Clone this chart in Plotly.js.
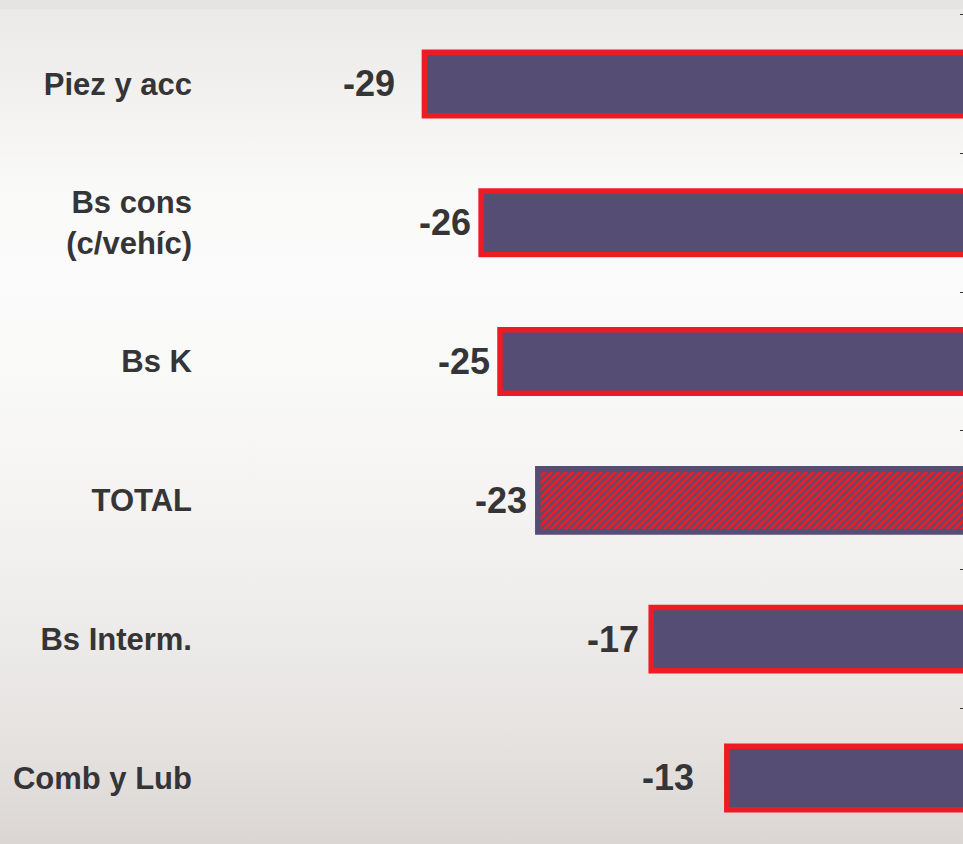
<!DOCTYPE html>
<html>
<head>
<meta charset="utf-8">
<script src="https://cdn.plot.ly/plotly-3.0.1.min.js"></script>
<style>
  html, body { margin: 0; padding: 0; overflow: hidden; }
  body {
    width: 963px; height: 844px;
    background: linear-gradient(to bottom,
      #e6e4e2 0%, #e6e4e2 1%, #eceae8 1.2%, #eeedeb 6%, #f4f3f2 14%,
      #f9f9f8 22%, #fbfbfb 33%, #f9f9f8 45%, #f5f4f3 58%, #f0efed 68%,
      #eae8e6 80%, #e4e0de 90%, #dbd6d3 100%);
  }
  #chart { width: 963px; height: 844px; }
</style>
</head>
<body>
<div id="chart"></div>
<script>
// ---- data ----
const categories = ["Piez y acc", "Bs cons<br>(c/vehíc)", "Bs K", "TOTAL", "Bs Interm.", "Comb y Lub"];
const values = [-29, -26, -25, -23, -17, -13];
const valueLabels = ["-29", "-26", "-25", "-23", "-17", "-13"];
const highlighted = [false, false, false, true, false, false];

// ---- style ----
const PURPLE = "#554d73";
const RED = "#ed1c24";
const TEXT = "#353437";
const FONT = "Arial, 'Liberation Sans', sans-serif";
const labelGap = [27, 8, 8, 9, 10, 31];   // px between value label and bar

const lineColors = highlighted.map(h => h ? PURPLE : RED);
const patternShapes = highlighted.map(h => h ? "/" : "");

const L = 200, R = 963;
const pxPerUnit = 18.9, zeroPx = 972.5;
const xRange = [-(zeroPx - L) / pxPerUnit, -(zeroPx - R) / pxPerUnit];
const yRange = [5.476, -0.605];

const bars = {
  type: "bar",
  orientation: "h",
  x: values,
  y: categories,
  width: 0.457,
  marker: {
    color: PURPLE,
    line: { color: lineColors, width: 5.5 },
    pattern: { shape: patternShapes, fillmode: "replace", bgcolor: RED, fgcolor: PURPLE, fgopacity: 1, size: 5, solidity: 0.42 }
  },
  hoverinfo: "skip",
  showlegend: false
};

const tickHelper = {
  type: "scatter",
  mode: "none",
  x: values,
  y: categories,
  yaxis: "y2",
  hoverinfo: "skip",
  showlegend: false
};

const annotations = values.map((v, i) => ({
  x: v, y: categories[i], xref: "x", yref: "y",
  text: "<b>" + valueLabels[i] + "</b>",
  showarrow: false, xanchor: "right", yanchor: "middle",
  xshift: -labelGap[i],
  font: { family: FONT, size: 36, color: TEXT }
}));

const layout = {
  width: 963, height: 844,
  margin: { l: L, r: 963 - R, t: 0, b: 0 },
  paper_bgcolor: "rgba(0,0,0,0)",
  plot_bgcolor: "rgba(0,0,0,0)",
  xaxis: { range: xRange, visible: false, fixedrange: true },
  yaxis: {
    type: "category", categoryarray: categories, range: yRange,
    ticks: "", showgrid: false, zeroline: false, showline: false,
    tickfont: { family: FONT, size: 31, color: TEXT, weight: "bold" },
    ticklabelstandoff: 7
  },
  yaxis2: {
    type: "category", categoryarray: categories, range: yRange,
    overlaying: "y", side: "right", anchor: "x",
    ticks: "inside", ticklen: 3, tickwidth: 1, tickcolor: "#333",
    tickson: "boundaries", showticklabels: false,
    showgrid: false, zeroline: false, showline: false
  },
  annotations: annotations
};

Plotly.newPlot("chart", [bars, tickHelper], layout, { displayModeBar: false, staticPlot: true });
</script>
</body>
</html>
